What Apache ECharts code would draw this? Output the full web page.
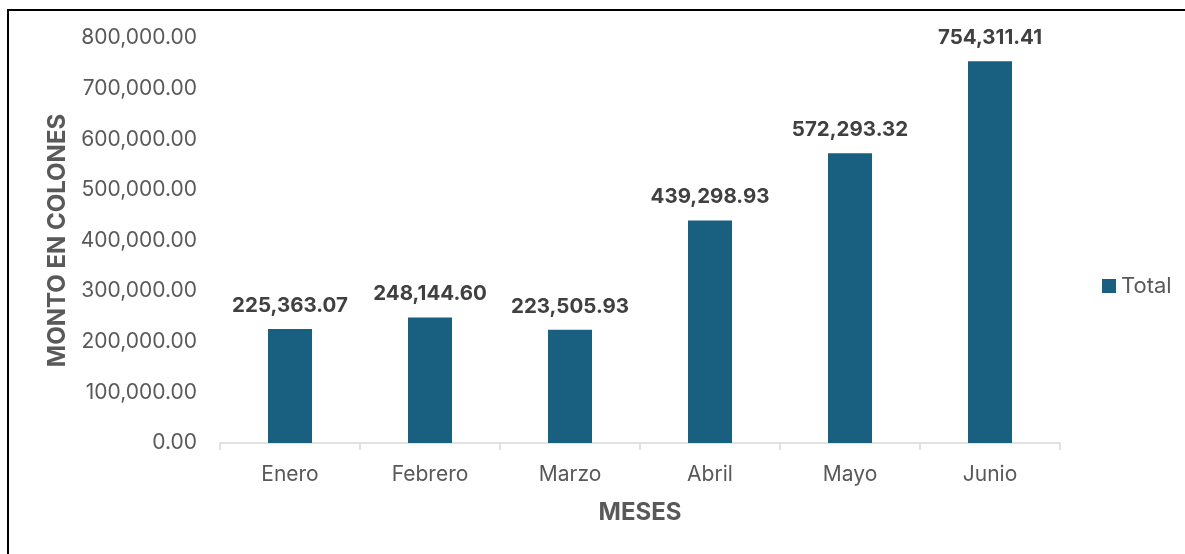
<!DOCTYPE html>
<html>
<head>
<meta charset="utf-8">
<script src="https://cdn.jsdelivr.net/npm/echarts@6/dist/echarts.min.js"></script>
<style>
  html, body { margin: 0; padding: 0; background: #ffffff; }
  #chart { width: 1185px; height: 554px; }
</style>
</head>
<body>
<div id="chart"></div>
<script>
// Monthly totals in colones
const meses = ['Enero', 'Febrero', 'Marzo', 'Abril', 'Mayo', 'Junio'];
const totales = [225363.07, 248144.60, 223505.93, 439298.93, 572293.32, 754311.41];
const serieNombre = 'Total';
const ejeX = 'MESES';
const ejeY = 'MONTO EN COLONES';

const FONT = 'Inter, "Open Sans", "Noto Sans", sans-serif';
const GRIS = '#595959';
const AZUL = '#185f80';

const fmt = v => Number(v).toLocaleString('en-US', { minimumFractionDigits: 2, maximumFractionDigits: 2 });

const chart = echarts.init(document.getElementById('chart'), null, { renderer: 'canvas' });

chart.setOption({
  backgroundColor: '#ffffff',
  animation: false,
  textStyle: { fontFamily: FONT },
  grid: { left: 220, right: 125, top: 38, bottom: 111, containLabel: false },
  legend: {
    data: [serieNombre],
    left: 1102,
    top: 275,
    padding: 0,
    icon: 'rect',
    itemWidth: 14,
    itemHeight: 14,
    textStyle: { color: GRIS, fontSize: 22, fontFamily: FONT, padding: [0, 0, 0, 0] }
  },
  xAxis: {
    type: 'category',
    data: meses,
    name: ejeX,
    nameLocation: 'middle',
    nameGap: 58,
    nameTextStyle: { color: GRIS, fontSize: 24, fontWeight: 'bold', fontFamily: FONT },
    axisLine: { lineStyle: { color: '#d9d9d9', width: 1.5 } },
    axisTick: { show: true, alignWithLabel: false, length: 7, lineStyle: { color: '#d9d9d9', width: 1.5 } },
    axisLabel: { color: GRIS, fontSize: 21, margin: 21, fontFamily: FONT }
  },
  yAxis: {
    type: 'value',
    min: 0,
    max: 800000,
    interval: 100000,
    name: ejeY,
    nameLocation: 'middle',
    nameGap: 148,
    nameRotate: 90,
    nameTextStyle: { color: GRIS, fontSize: 24, fontWeight: 'bold', fontFamily: FONT },
    axisLine: { show: false },
    axisTick: { show: false },
    splitLine: { show: false },
    axisLabel: { color: GRIS, fontSize: 21, margin: 23, fontFamily: FONT, formatter: v => fmt(v) }
  },
  series: [{
    name: serieNombre,
    type: 'bar',
    data: totales,
    barWidth: 44,
    itemStyle: { color: AZUL },
    label: {
      show: true,
      position: 'top',
      distance: 13,
      color: '#404040',
      fontSize: 20.5,
      fontWeight: 'bold',
      fontFamily: FONT,
      formatter: p => fmt(p.value)
    }
  }],
  graphic: [
    { type: 'line', shape: { x1: 8, y1: 9, x2: 8, y2: 554 }, style: { stroke: '#000000', lineWidth: 2 } },
    { type: 'line', shape: { x1: 7, y1: 10, x2: 1185, y2: 10 }, style: { stroke: '#000000', lineWidth: 2 } }
  ]
});
</script>
</body>
</html>
